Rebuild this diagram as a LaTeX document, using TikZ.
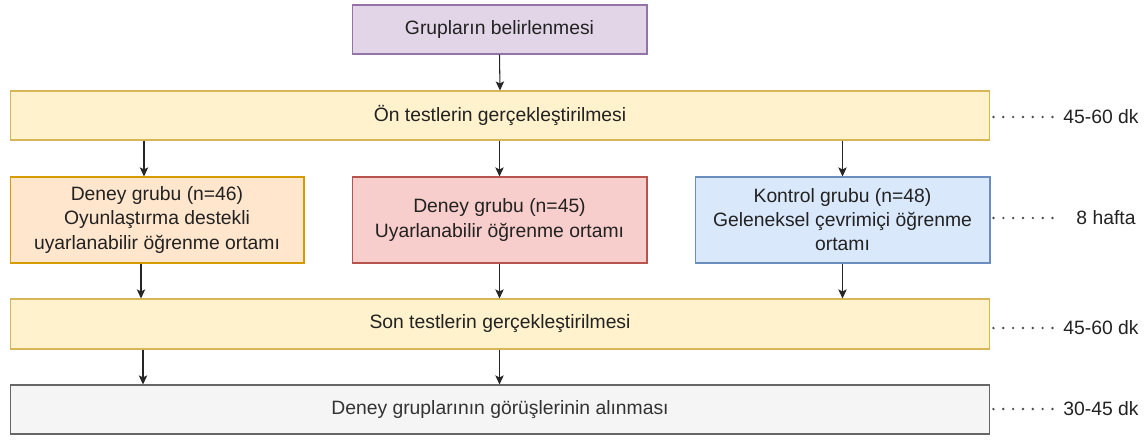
\documentclass[tikz,border=0pt]{standalone}
\usepackage{fontspec}
\setmainfont{Liberation Sans}
\usetikzlibrary{arrows.meta}
\definecolor{pfill}{HTML}{E1D5E7}\definecolor{pdraw}{HTML}{9673A6}
\definecolor{yfill}{HTML}{FFF2CC}\definecolor{ydraw}{HTML}{D6B656}
\definecolor{ofill}{HTML}{FFE6CC}\definecolor{odraw}{HTML}{D79B00}
\definecolor{rfill}{HTML}{F8CECC}\definecolor{rdraw}{HTML}{B85450}
\definecolor{bfill}{HTML}{DAE8FC}\definecolor{bdraw}{HTML}{6C8EBF}
\definecolor{gfill}{HTML}{F5F5F5}\definecolor{gdraw}{HTML}{666666}
\definecolor{gtext}{HTML}{333333}
\definecolor{txt}{HTML}{222222}
\begin{document}
\begin{tikzpicture}[x=0.02cm,y=-0.02cm,
  box/.style={rectangle, line width=0.6pt, inner sep=2pt, align=center, text=txt,
    font=\fontsize{11}{13.7}\selectfont},
  arr/.style={draw=black!85, line width=0.6pt, -{Stealth[length=5.2pt,width=4.8pt,inset=1.2pt]}},
  dots/.style={draw=black!70, line width=1.5pt, line cap=round, dash pattern=on 0pt off 5.6pt},
  lab/.style={inner sep=0pt, text=txt, font=\fontsize{11}{13.7}\selectfont}]
\useasboundingbox (0,0) rectangle (1148,439);
\node[box, fill=pfill, draw=pdraw, minimum width=5.9cm, minimum height=0.98cm] (grp) at (499.5,29.5) {Grupların belirlenmesi};
\node[box, fill=yfill, draw=ydraw, minimum width=19.6cm, minimum height=0.98cm] (on) at (500,115.5) {Ön testlerin gerçekleştirilmesi};
\node[box, fill=ofill, draw=odraw, minimum width=5.88cm, minimum height=1.72cm] (g1) at (157,220) {Deney grubu (n=46)\\Oyunlaştırma destekli\\uyarlanabilir öğrenme ortamı};
\node[box, fill=rfill, draw=rdraw, minimum width=5.9cm, minimum height=1.72cm] (g2) at (499.5,220) {Deney grubu (n=45)\\Uyarlanabilir öğrenme ortamı};
\node[box, fill=bfill, draw=bdraw, minimum width=5.9cm, minimum height=1.72cm] (g3) at (842.5,220) {Kontrol grubu (n=48)\\Geleneksel çevrimiçi öğrenme\\ortamı};
\node[box, fill=yfill, draw=ydraw, minimum width=19.6cm, minimum height=1.0cm] (son) at (500,324) {Son testlerin gerçekleştirilmesi};
\node[box, fill=gfill, draw=gdraw, text=gtext, minimum width=19.6cm, minimum height=0.98cm] (gor) at (500,409.5) {Deney gruplarının görüşlerinin alınması};
% columns
\coordinate (ca) at (144,0);
\coordinate (cb) at (141,0);
\coordinate (cc) at (143,0);
\coordinate (cm) at (499.5,0);
\coordinate (cr) at (842.5,0);
% arrows
\draw[arr] (grp.south) -- (on.north);
\draw[arr] (on.south -| ca) -- (g1.north -| ca);
\draw[arr] (on.south -| cm) -- (g2.north -| cm);
\draw[arr] (on.south -| cr) -- (g3.north -| cr);
\draw[arr] (g1.south -| cb) -- (son.north -| cb);
\draw[arr] (g2.south -| cm) -- (son.north -| cm);
\draw[arr] (g3.south -| cr) -- (son.north -| cr);
\draw[arr] (son.south -| cc) -- (gor.north -| cc);
\draw[arr] (son.south -| cm) -- (gor.north -| cm);
% side labels
\node[lab, anchor=west] (t1) at (1063,117) {45-60 dk};
\node[lab] (t2) at (1106,218) {8 hafta};
\coordinate (e2) at (1054.5,218);
\node[lab, anchor=west] (t3) at (1063,328) {45-60 dk};
\node[lab, anchor=west] (t4) at (1063,409) {30-45 dk};
\draw[dots, shorten <=1.7pt, shorten >=4.7pt] (on.east |- t1) -- (t1.west);
\draw[dots, shorten <=1.7pt] (g3.east |- t2) -- (e2);
\draw[dots, shorten <=1.7pt, shorten >=4.7pt] (son.east |- t3) -- (t3.west);
\draw[dots, shorten <=1.7pt, shorten >=4.7pt] (gor.east |- t4) -- (t4.west);
\end{tikzpicture}
\end{document}
